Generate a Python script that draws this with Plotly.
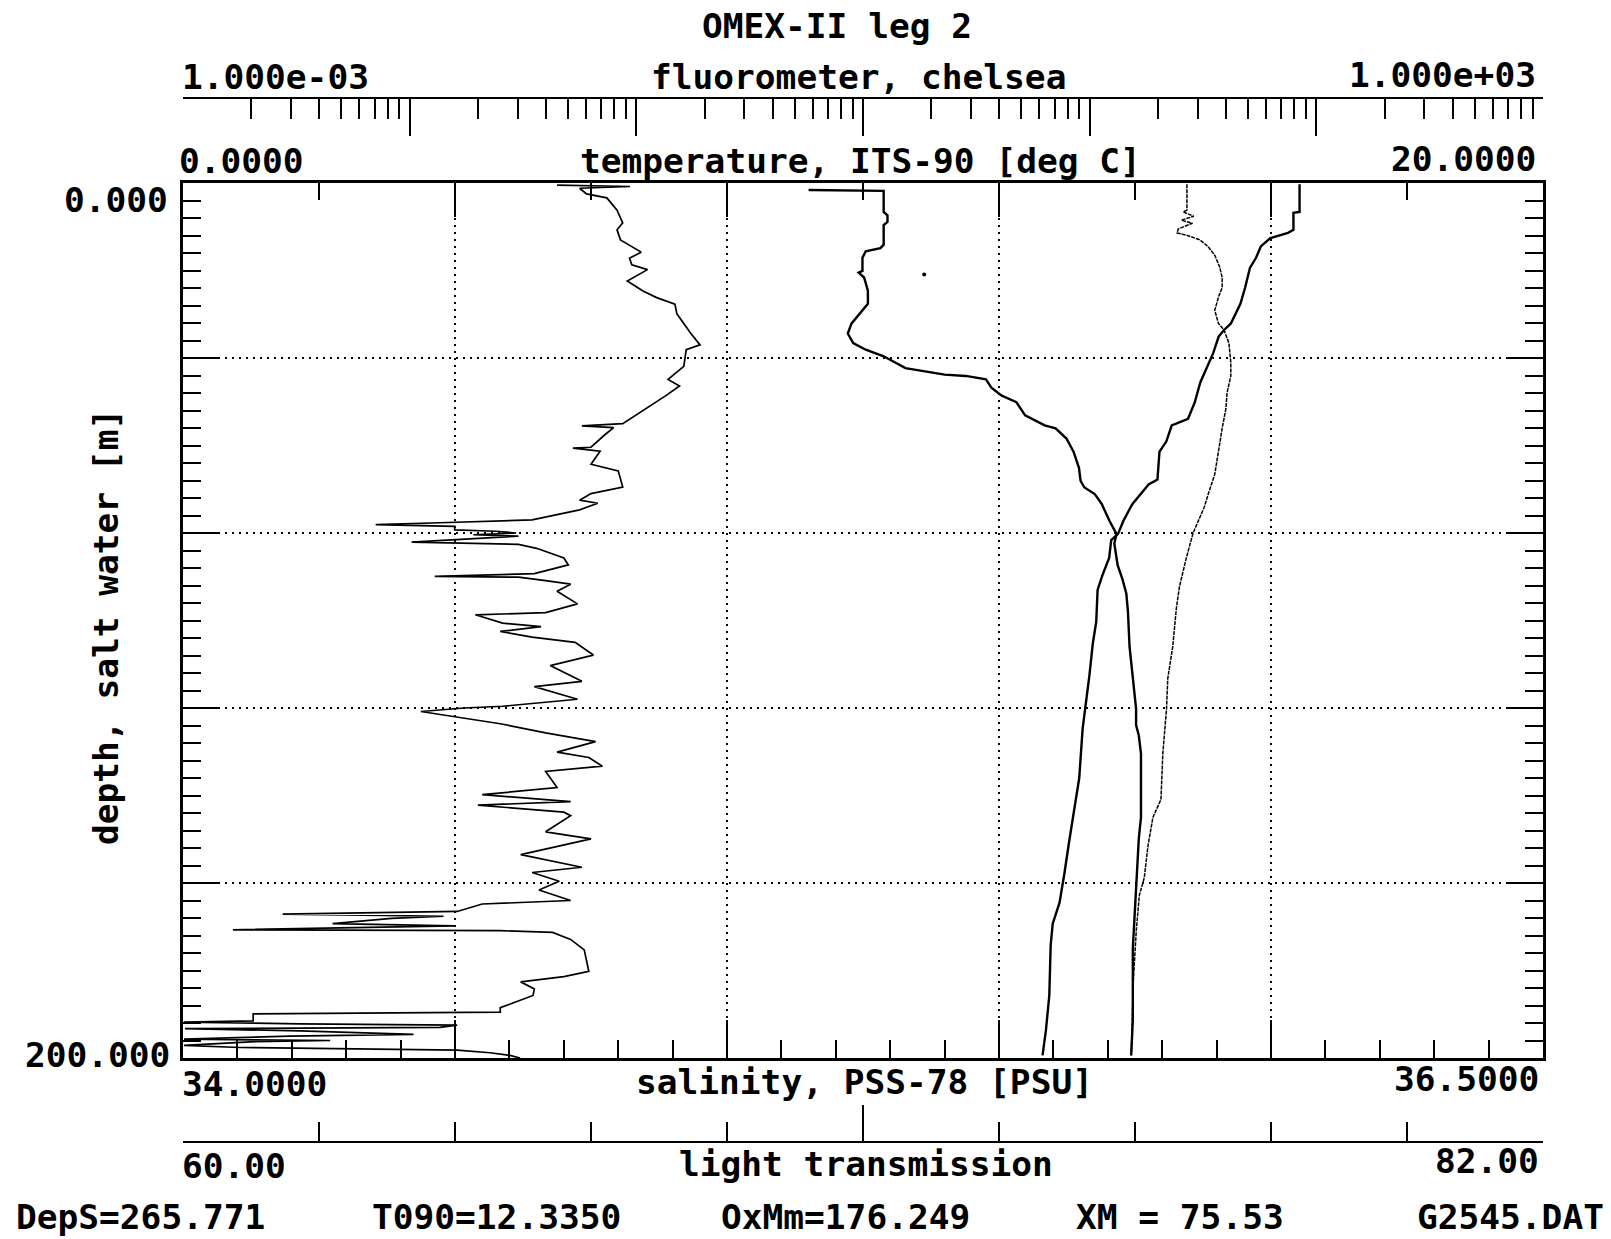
import plotly.graph_objects as go

# ---------------- data ----------------
# temperature, ITS-90 [deg C]
temp_depth = [0.3, 6.6, 6.8, 10.7, 11.4, 12.6, 14.5, 17.1, 19.4, 23.9, 27.6, 32.1, 33.6, 35.1,
              38.9, 42.6, 45.6, 50.1, 53.9, 55.4, 59.1, 61.4, 67.8, 68.9, 73.4, 77.2, 80.2,
              81.6, 85.7, 89.7, 93.0, 100.3, 105.2, 112.5, 118.2, 124.7, 136.0, 142.5, 150.7,
              158.0, 164.5, 169.3, 174.2, 185.6, 193.7, 199.4]
temp_val = [16.42, 16.42, 16.33, 16.33, 16.25, 15.99, 15.85, 15.78, 15.69, 15.62, 15.55, 15.41,
            15.31, 15.23, 15.15, 15.04, 14.96, 14.88, 14.78, 14.54, 14.46, 14.36, 14.33, 14.20,
            13.96, 13.83, 13.75, 13.65, 13.62, 13.52, 13.45, 13.43, 13.38, 13.33, 13.28, 13.23,
            13.18, 13.11, 13.03, 12.96, 12.89, 12.79, 12.76, 12.74, 12.69, 12.64]

# salinity, PSS-78 [PSU]
sal_depth = [1.6, 1.8, 6.6, 7.4, 8.9, 9.6, 14.1, 14.9, 15.6, 17.1, 20.1, 20.5, 21.6, 24.6, 27.6,
             28.7, 30.6, 32.1, 34.4, 36.6, 38.1, 39.6, 42.3, 43.0, 43.8, 44.1, 44.9, 46.8, 48.6,
             50.1, 53.1, 55.4, 56.1, 58.4, 61.4, 65.1, 68.1, 69.6, 71.1, 73.4, 77.2, 80.2,
             82.4, 87.3, 90.6, 93.8, 97.9, 106.0, 113.3, 120.2, 123.9, 126.3, 130.4, 145.0,
             149.8, 154.7, 160.0, 166.9, 175.0, 191.3, 199.4]
sal_val = [35.150, 35.288, 35.288, 35.295, 35.295, 35.288, 35.288, 35.282, 35.255, 35.249,
           35.249, 35.242, 35.252, 35.259, 35.259, 35.252, 35.239, 35.229, 35.222, 35.232,
           35.255, 35.288, 35.328, 35.361, 35.400, 35.439, 35.476, 35.486, 35.505, 35.532,
           35.548, 35.584, 35.604, 35.624, 35.637, 35.647, 35.650, 35.657, 35.676, 35.689,
           35.703, 35.716, 35.712, 35.718, 35.727, 35.734, 35.737, 35.740, 35.746, 35.752,
           35.752, 35.757, 35.761, 35.761, 35.757, 35.755, 35.752, 35.749, 35.746, 35.746,
           35.743]

# light transmission
trans_depth = [0.3, 6.2, 6.6, 7.6, 8.5, 9.2, 10.5, 11.4, 12.0, 13.0, 14.5, 16.5, 19.2, 21.6,
               23.9, 26.1, 29.1, 32.1, 33.6, 36.6, 41.1, 44.1, 47.9, 51.6, 56.1, 61.4, 66.6,
               70.4, 74.1, 80.0, 85.7, 92.2, 97.1, 106.0, 113.3, 120.2, 130.4, 140.9, 145.0,
               151.5, 158.8, 162.8, 171.0, 183.1, 191.3, 199.4]
trans_val = [76.24, 76.24, 76.18, 76.35, 76.15, 76.33, 76.10, 76.08, 76.25, 76.45, 76.58, 76.69,
             76.77, 76.81, 76.81, 76.75, 76.69, 76.75, 76.84, 76.92, 76.95, 76.95, 76.89, 76.87,
             76.81, 76.75, 76.69, 76.60, 76.52, 76.34, 76.23, 76.12, 76.07, 76.01, 75.93, 75.91,
             75.85, 75.82, 75.69, 75.61, 75.55, 75.47, 75.42, 75.37, 75.35, 75.34]

# fluorometer, chelsea (log axis)
fluor_depth = [0.5, 0.8, 1.2, 2.5, 3.4, 6.2, 9.1, 10.7, 13.0, 15.8, 17.2, 18.7, 19.8,
               22.4, 24.7, 26.2, 27.7, 29.9, 34.4, 37.0, 38.1, 41.9, 44.9, 46.4, 48.6, 52.3,
               55.0, 55.5, 55.9, 57.6, 60.4, 60.6, 61.3, 64.3, 65.8, 69.5, 71.0, 72.5, 73.2,
               74.7, 77.0, 77.6, 78.1, 78.5, 79.3, 79.6, 80.0, 80.4, 80.7, 82.1, 82.6, 83.5,
               85.7, 87.3, 89.3, 89.9, 90.1, 90.9, 91.7, 93.3, 96.2, 98.2, 98.7, 100.6, 101.4,
               102.5, 103.8, 105.0, 107.9, 110.3, 113.9, 115.1, 118.0, 119.6, 120.0, 120.8,
               123.6, 125.7, 127.7, 130.1, 131.3, 133.3, 134.5, 138.2, 139.8, 141.4, 142.2,
               143.8, 144.6, 148.3, 149.9, 153.5, 156.4, 157.6, 159.6, 161.6, 164.0, 164.8,
               166.5, 167.1, 167.6, 168.1, 169.3, 169.8, 170.7, 170.9, 171.3, 172.9, 175.3,
               180.2, 181.4, 182.6, 184.2, 185.7, 188.5, 189.5, 189.7, 189.9, 191.5, 191.8,
               192.2, 192.5, 193.0, 193.3, 193.8, 194.6, 195.0, 195.7, 196.0, 196.3, 197.1,
               197.6, 198.2, 198.8, 199.4, 200.0]
fluor_val = [0.0447, 0.0938, 0.0562, 0.0603, 0.0741, 0.0822, 0.0871, 0.0822, 0.0851, 0.105,
             0.0933, 0.0955, 0.112, 0.0912, 0.107, 0.123, 0.148, 0.151, 0.174,
             0.191, 0.166, 0.162, 0.138, 0.155, 0.135, 0.105, 0.0871, 0.0575, 0.0794, 0.0724,
             0.0631, 0.0525, 0.0692, 0.0631, 0.0832, 0.0871, 0.0631, 0.0562, 0.0676, 0.0562,
             0.0347, 0.0148, 0.00708, 0.0158, 0.0158, 0.0240, 0.0295, 0.0191, 0.0302, 0.0102,
             0.0302, 0.0363, 0.0479, 0.0501, 0.0355, 0.0129, 0.0302, 0.0398, 0.0513, 0.0447,
             0.0550, 0.0398, 0.0195, 0.0257, 0.0380, 0.0251, 0.0347, 0.0537, 0.0646, 0.0417,
             0.0575, 0.0355, 0.0550, 0.0257, 0.0174, 0.0112, 0.0251, 0.0398, 0.0661, 0.0447,
             0.0617, 0.0708, 0.0398, 0.0447, 0.0209, 0.0513, 0.0200, 0.0479, 0.0513, 0.0398,
             0.0631, 0.0309, 0.0575, 0.0347, 0.0457, 0.0372, 0.0513, 0.0209, 0.0162, 0.00275,
             0.0141, 0.00832, 0.00457, 0.0158, 0.00166, 0.0251, 0.0427, 0.0513, 0.0589,
             0.0617, 0.0479, 0.0309, 0.0355, 0.0350, 0.0251, 0.0251, 0.00984, 0.00204,
             0.00204, 0.00101, 0.00328, 0.0162, 0.0136, 0.00102, 0.00328, 0.0104, 0.00296,
             0.00101, 0.00446, 0.00198, 0.00101, 0.00178, 0.0162, 0.0226, 0.0277, 0.0307]

stray_temp = [10.9]
stray_depth = [20.9]

# axis end labels / titles
title_text = "OMEX-II leg 2"
fluor_labels = ["1.000e-03", "fluorometer, chelsea", "1.000e+03"]
temp_labels = ["0.0000", "temperature, ITS-90 [deg C]", "20.0000"]
sal_labels = ["34.0000", "salinity, PSS-78 [PSU]", "36.5000"]
trans_labels = ["60.00", "light transmission", "82.00"]
depth_labels = ["0.000", "200.000"]
depth_title = "depth, salt water [m]"
footer = ["DepS=265.771", "T090=12.3350", "OxMm=176.249", "XM = 75.53", "G2545.DAT"]

# ---------------- layout geometry (pixels) ----------------
W, H = 1611, 1239
L_PX, R_PX = 183, 1543          # frame left/right
T_PX, B_PX = 98, 1142           # outer axes (fluorometer / light transmission)
FR_TOP, FR_BOT = 183, 1058      # plot frame top/bottom


def px(x):
    return (x - L_PX) / (R_PX - L_PX)


def py(y):
    return (B_PX - y) / (B_PX - T_PX)


FONT = "DejaVu Sans Mono"
FS = 34.5
BLACK = "#000000"

fig = go.Figure()

fig.add_trace(go.Scatter(x=fluor_val, y=fluor_depth, xaxis="x3", yaxis="y", mode="lines",
                         line=dict(color=BLACK, width=1.7), hoverinfo="skip"))
fig.add_trace(go.Scatter(x=temp_val, y=temp_depth, xaxis="x", yaxis="y", mode="lines",
                         line=dict(color=BLACK, width=2.4), hoverinfo="skip"))
fig.add_trace(go.Scatter(x=sal_val, y=sal_depth, xaxis="x2", yaxis="y", mode="lines",
                         line=dict(color=BLACK, width=2.4), hoverinfo="skip"))
fig.add_trace(go.Scatter(x=trans_val, y=trans_depth, xaxis="x4", yaxis="y", mode="lines",
                         line=dict(color=BLACK, width=1.5, dash="4px,1px"), hoverinfo="skip"))
fig.add_trace(go.Scatter(x=stray_temp, y=stray_depth, xaxis="x", yaxis="y", mode="markers",
                         marker=dict(color=BLACK, size=4), hoverinfo="skip"))

common = dict(showline=True, linecolor=BLACK, zeroline=False, showticklabels=False,
              tickcolor=BLACK, ticks="inside")

fluor_minor = [m * 10.0 ** e for e in range(-3, 3) for m in range(2, 10)]

fig.update_layout(
    width=W, height=H, autosize=False,
    margin=dict(l=L_PX, r=W - R_PX, t=T_PX, b=H - B_PX, pad=0),
    paper_bgcolor="white", plot_bgcolor="white",
    showlegend=False,
    font=dict(family=FONT, size=FS, color=BLACK),
    yaxis=dict(domain=[py(FR_BOT), py(FR_TOP)], range=[200, 0], mirror="ticks",
               linewidth=2.5, tickmode="linear", tick0=0, dtick=40, ticklen=36, tickwidth=2,
               minor=dict(ticks="inside", dtick=4, tick0=0, ticklen=18, tickwidth=2,
                          tickcolor=BLACK),
               showgrid=True, gridcolor=BLACK, gridwidth=1.5, griddash="2px,5px",
               **common),
    xaxis=dict(range=[0, 20], anchor="y", side="top", linewidth=2.5,
               tickmode="linear", tick0=0, dtick=4, ticklen=34, tickwidth=2,
               minor=dict(ticks="inside", dtick=2, tick0=0, ticklen=17, tickwidth=2,
                          tickcolor=BLACK),
               showgrid=True, gridcolor=BLACK, gridwidth=1.5, griddash="2px,5px",
               **common),
    xaxis2=dict(range=[34, 36.5], anchor="y", overlaying="x", side="bottom", linewidth=2.5,
                tickmode="linear", tick0=34, dtick=0.5, ticklen=38, tickwidth=2,
                minor=dict(ticks="inside", dtick=0.1, tick0=34, ticklen=18, tickwidth=2,
                           tickcolor=BLACK),
                showgrid=False, **common),
    xaxis3=dict(type="log", range=[-3, 3], anchor="free", position=1, overlaying="x",
                side="top", linewidth=2, tickmode="linear", tick0=0, dtick=1, ticklen=37,
                tickwidth=2,
                minor=dict(ticks="inside", tickmode="array", tickvals=fluor_minor,
                           ticklen=20, tickwidth=2, tickcolor=BLACK),
                showgrid=False, **common),
    xaxis4=dict(range=[60, 82], anchor="free", position=0, overlaying="x", side="bottom",
                linewidth=2, tickmode="linear", tick0=60, dtick=11, ticklen=36, tickwidth=2,
                minor=dict(ticks="inside", dtick=2.2, tick0=60, ticklen=19, tickwidth=2,
                           tickcolor=BLACK),
                showgrid=False, **common),
)

anns = []


def add_text(text, x, y, xanchor="center", angle=0):
    anns.append(dict(text="<b>" + text + "</b>", x=px(x), y=py(y), xref="paper", yref="paper",
                     xanchor=xanchor, yanchor="middle", showarrow=False, textangle=angle,
                     font=dict(family=FONT, size=FS, color=BLACK)))


add_text(title_text, 837, 26)
add_text(fluor_labels[0], 180, 77, "left")
add_text(fluor_labels[1], 858, 77)
add_text(fluor_labels[2], 1538, 75, "right")
add_text(temp_labels[0], 177, 161, "left")
add_text(temp_labels[1], 860, 161)
add_text(temp_labels[2], 1538, 159, "right")
add_text(depth_labels[0], 170, 200, "right")
add_text(depth_labels[1], 172, 1055, "right")
add_text(depth_title, 106, 627, "center", -90)
add_text(sal_labels[0], 180, 1084, "left")
add_text(sal_labels[1], 864, 1082)
add_text(sal_labels[2], 1541, 1079, "right")
add_text(trans_labels[0], 180, 1166, "left")
add_text(trans_labels[1], 866, 1164)
add_text(trans_labels[2], 1541, 1161, "right")
add_text(footer[0], 14, 1217, "left")
add_text(footer[1], 370, 1217, "left")
add_text(footer[2], 719, 1217, "left")
add_text(footer[3], 1074, 1217, "left")
add_text(footer[4], 1606, 1217, "right")

fig.update_layout(annotations=anns)

fig.write_html("out.html")
